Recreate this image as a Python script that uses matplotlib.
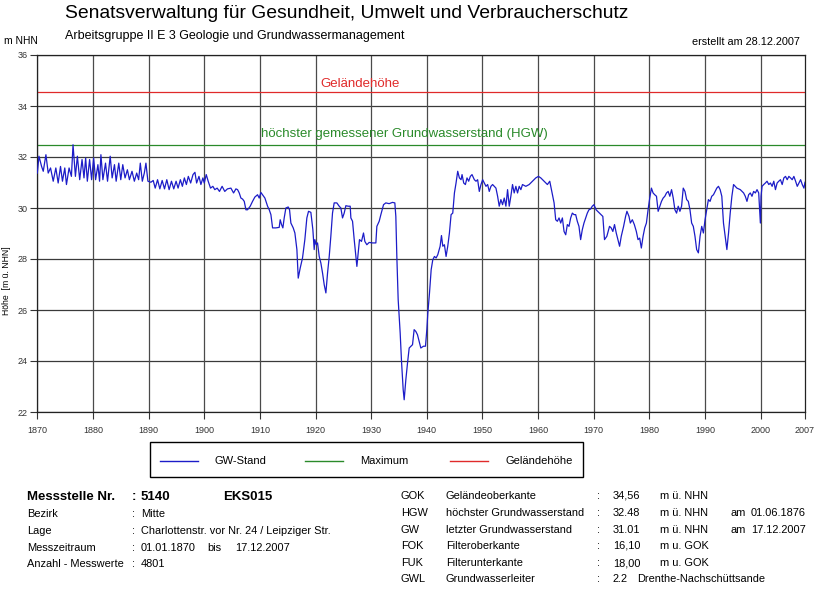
import matplotlib
matplotlib.use("Agg")
import matplotlib.pyplot as plt
from matplotlib.lines import Line2D
from matplotlib.patches import Rectangle

plt.rcParams['font.family'] = ['Liberation Sans', 'DejaVu Sans']

# ---------------- data ----------------
years = [
    1870.00, 1870.30, 1870.77, 1871.07, 1871.55, 1871.96, 1872.38, 1872.86, 1873.33, 1873.75,
    1874.17, 1874.52, 1874.94, 1875.24, 1875.71, 1876.13, 1876.42, 1876.85, 1877.20, 1877.62,
    1878.04, 1878.39, 1878.69, 1878.99, 1879.40, 1879.76, 1880.12, 1880.48, 1880.89, 1881.19,
    1881.43, 1881.79, 1882.26, 1882.62, 1883.10, 1883.45, 1883.87, 1884.17, 1884.64, 1885.00,
    1885.36, 1885.77, 1886.19, 1886.55, 1887.02, 1887.44, 1887.86, 1888.21, 1888.51, 1888.87,
    1889.23, 1889.52, 1889.88, 1890.42, 1890.83, 1891.19, 1891.61, 1892.02, 1892.44, 1892.86,
    1893.27, 1893.69, 1894.11, 1894.52, 1894.94, 1895.30, 1895.71, 1896.07, 1896.43, 1896.79,
    1897.14, 1897.56, 1897.98, 1898.33, 1898.63, 1899.05, 1899.40, 1899.76, 1900.00, 1900.36,
    1900.71, 1901.13, 1901.55, 1901.90, 1902.32, 1902.74, 1903.21, 1903.69, 1904.17, 1904.79,
    1905.27, 1905.69, 1905.99, 1906.29, 1906.59, 1906.89, 1907.19, 1907.49, 1907.78, 1908.26,
    1908.68, 1909.10, 1909.58, 1909.88, 1910.18, 1910.48, 1910.90, 1911.38, 1911.68, 1911.98,
    1912.28, 1912.87, 1913.47, 1913.65, 1913.89, 1914.13, 1914.37, 1914.67, 1915.09, 1915.33,
    1915.57, 1915.99, 1916.29, 1916.65, 1916.89, 1917.25, 1917.66, 1918.08, 1918.44, 1918.74,
    1919.16, 1919.34, 1919.52, 1919.76, 1919.88, 1920.12, 1920.36, 1920.66, 1920.96, 1921.26,
    1921.56, 1921.86, 1922.16, 1922.46, 1922.75, 1923.05, 1923.35, 1923.83, 1924.25, 1924.55,
    1924.85, 1925.15, 1925.45, 1925.87, 1926.23, 1926.35, 1926.65, 1926.95, 1927.25, 1927.43,
    1927.66, 1927.90, 1928.26, 1928.62, 1928.86, 1929.22, 1929.64, 1930.24, 1930.84, 1931.02,
    1931.44, 1931.74, 1932.22, 1932.63, 1933.23, 1933.83, 1934.25, 1934.43, 1934.61, 1934.85,
    1935.21, 1935.45, 1935.75, 1935.93, 1936.23, 1936.53, 1936.83, 1937.43, 1937.72, 1938.02,
    1938.32, 1938.62, 1938.92, 1939.40, 1939.76, 1940.00, 1940.18, 1940.48, 1940.78, 1941.07,
    1941.37, 1941.67, 1941.97, 1942.39, 1942.63, 1942.87, 1943.16, 1943.46, 1943.76, 1944.06,
    1944.36, 1944.66, 1944.96, 1945.25, 1945.55, 1945.85, 1946.15, 1946.33, 1946.63, 1946.93,
    1947.22, 1947.52, 1947.82, 1948.12, 1948.54, 1948.84, 1949.13, 1949.43, 1949.73, 1950.03,
    1950.33, 1950.63, 1950.93, 1951.22, 1951.52, 1951.82, 1952.12, 1952.42, 1952.72, 1953.01,
    1953.31, 1953.61, 1953.91, 1954.21, 1954.51, 1954.81, 1955.10, 1955.40, 1955.70, 1956.00,
    1956.30, 1956.60, 1956.90, 1957.19, 1957.79, 1958.39, 1958.99, 1959.58, 1960.06, 1960.48,
    1961.07, 1961.67, 1962.09, 1962.45, 1962.87, 1963.16, 1963.46, 1963.76, 1964.06, 1964.36,
    1964.66, 1964.96, 1965.25, 1965.55, 1965.85, 1966.15, 1966.45, 1966.75, 1967.04, 1967.34,
    1967.64, 1967.94, 1968.24, 1968.54, 1968.84, 1969.13, 1969.43, 1969.73, 1970.03, 1970.42,
    1971.02, 1971.63, 1971.93, 1972.35, 1972.83, 1973.13, 1973.43, 1973.73, 1974.04, 1974.34,
    1974.64, 1974.94, 1975.36, 1975.72, 1975.96, 1976.33, 1976.57, 1976.93, 1977.29, 1977.65,
    1977.95, 1978.25, 1978.55, 1978.86, 1979.16, 1979.46, 1979.76, 1980.06, 1980.36, 1980.66,
    1980.96, 1981.27, 1981.57, 1981.87, 1982.17, 1982.47, 1982.77, 1983.07, 1983.37, 1983.67,
    1983.98, 1984.28, 1984.58, 1984.88, 1985.18, 1985.48, 1985.78, 1986.08, 1986.39, 1986.69,
    1986.99, 1987.29, 1987.59, 1987.89, 1988.19, 1988.49, 1988.80, 1989.10, 1989.40, 1989.70,
    1990.00, 1990.30, 1990.60, 1990.90, 1991.20, 1991.51, 1991.81, 1992.11, 1992.41, 1992.71,
    1993.01, 1993.31, 1993.61, 1993.92, 1994.22, 1994.52, 1994.82, 1995.12, 1995.72, 1996.33,
    1996.93, 1997.23, 1997.53, 1997.83, 1998.13, 1998.43, 1998.73, 1999.04, 1999.34, 1999.64,
    1999.94, 2000.06, 2000.24, 2000.54, 2000.84, 2001.14, 2001.45, 2001.75, 2002.05, 2002.35,
    2002.65, 2002.95, 2003.25, 2003.55, 2003.86, 2004.16, 2004.46, 2004.76, 2005.06, 2005.36,
    2005.66, 2005.96, 2006.27, 2006.57, 2006.87, 2007.17, 2007.47, 2007.77, 2007.96,
]
levels = [
    31.37, 32.03, 31.63, 31.44, 32.09, 31.37, 31.57, 31.05, 31.57, 30.98,
    31.63, 31.05, 31.57, 30.92, 31.57, 31.24, 32.48, 31.24, 32.03, 31.11,
    31.90, 31.18, 31.96, 31.05, 31.90, 31.11, 31.96, 31.11, 31.70, 31.05,
    32.09, 31.11, 31.76, 31.05, 32.03, 31.18, 31.70, 31.05, 31.76, 31.11,
    31.70, 31.18, 31.50, 31.11, 31.44, 31.05, 31.37, 31.11, 31.76, 31.05,
    31.37, 31.76, 31.05, 31.01, 31.08, 30.78, 31.11, 30.75, 31.08, 30.75,
    31.11, 30.72, 31.05, 30.75, 31.05, 30.78, 31.11, 30.85, 31.18, 30.92,
    31.24, 30.98, 31.31, 31.40, 30.98, 31.24, 30.92, 31.18, 30.98, 31.31,
    31.05, 30.78, 30.85, 30.72, 30.78, 30.65, 30.85, 30.65, 30.75, 30.78,
    30.59, 30.75, 30.72, 30.59, 30.39, 30.35, 30.26, 29.93, 29.93, 30.07,
    30.26, 30.43, 30.52, 30.39, 30.61, 30.52, 30.39, 30.07, 29.93, 29.74,
    29.22, 29.22, 29.24, 29.54, 29.35, 29.22, 29.61, 30.00, 30.04, 29.93,
    29.41, 29.22, 29.02, 28.37, 27.25, 27.65, 28.04, 28.76, 29.61, 29.87,
    29.83, 29.48, 29.15, 28.37, 28.76, 28.56, 28.63, 28.10, 27.84, 27.45,
    26.99, 26.67, 27.45, 28.10, 28.89, 29.80, 30.20, 30.20, 30.07, 30.00,
    29.61, 29.80, 30.09, 30.07, 30.07, 29.61, 29.48, 28.76, 28.10, 27.71,
    28.24, 28.76, 28.69, 29.02, 28.69, 28.56, 28.65, 28.63, 28.63, 29.28,
    29.48, 29.74, 30.13, 30.20, 30.17, 30.22, 30.20, 29.67, 28.10, 26.41,
    25.10, 23.99, 22.88, 22.48, 23.27, 23.92, 24.51, 24.64, 25.23, 25.16,
    25.03, 24.77, 24.51, 24.58, 24.58, 25.23, 25.88, 26.67, 27.58, 27.97,
    28.10, 28.04, 28.17, 28.50, 28.92, 28.50, 28.56, 28.10, 28.50, 29.02,
    29.74, 29.80, 30.59, 30.98, 31.44, 31.18, 31.11, 31.31, 30.98, 30.92,
    31.18, 31.05, 31.24, 31.31, 31.11, 31.05, 31.11, 30.65, 30.92, 31.11,
    30.98, 30.85, 30.92, 30.65, 30.85, 30.92, 30.85, 30.78, 30.46, 30.07,
    30.33, 30.13, 30.39, 30.07, 30.72, 30.07, 30.46, 30.92, 30.59, 30.85,
    30.59, 30.85, 30.72, 30.92, 30.85, 30.92, 31.05, 31.18, 31.24, 31.18,
    31.05, 30.92, 31.05, 30.65, 30.20, 29.54, 29.48, 29.61, 29.41, 29.61,
    29.08, 28.95, 29.35, 29.28, 29.61, 29.80, 29.74, 29.74, 29.48, 29.28,
    28.76, 29.15, 29.41, 29.61, 29.80, 29.93, 29.96, 30.07, 30.13, 29.93,
    29.80, 29.67, 28.76, 28.89, 29.28, 29.22, 29.08, 29.35, 29.02, 28.76,
    28.50, 28.89, 29.28, 29.67, 29.87, 29.67, 29.41, 29.54, 29.35, 29.08,
    28.76, 28.82, 28.43, 28.89, 29.22, 29.41, 29.93, 30.39, 30.78, 30.59,
    30.52, 30.46, 29.87, 30.07, 30.26, 30.39, 30.46, 30.59, 30.65, 30.46,
    30.72, 30.39, 29.93, 29.80, 30.07, 29.87, 30.07, 30.78, 30.65, 30.33,
    30.26, 29.93, 29.41, 29.28, 28.89, 28.37, 28.24, 28.89, 29.28, 29.02,
    29.54, 29.93, 30.33, 30.26, 30.46, 30.52, 30.65, 30.78, 30.85, 30.72,
    30.46, 29.41, 28.89, 28.37, 29.02, 29.80, 30.46, 30.92, 30.78, 30.72,
    30.59, 30.46, 30.26, 30.52, 30.59, 30.46, 30.65, 30.59, 30.72, 30.59,
    29.41, 30.46, 30.85, 30.92, 30.98, 31.05, 30.92, 30.98, 30.85, 31.05,
    30.72, 30.98, 31.05, 31.11, 30.92, 31.18, 31.24, 31.11, 31.24, 31.18,
    31.11, 31.24, 31.05, 30.85, 30.98, 31.11, 30.92, 30.78, 31.01,
]
gok_level = 34.56      # Geländeoberkante
hgw_level = 32.48      # höchster gemessener Grundwasserstand
x_start, x_end = 1870.0, 2007.96
yticks = [22, 24, 26, 28, 30, 32, 34, 36]
xticks = [1870, 1880, 1890, 1900, 1910, 1920, 1930, 1940, 1950, 1960, 1970, 1980, 1990, 2000]
xtick_labels = ['1870', '1880', '1890', '1900', '1910', '1920', '1930', '1940', '1950',
                '1960', '1970', '1980', '1990', '2000', '2007']

C_BLUE = '#1c1cc8'
C_GREEN = '#2a8a2a'
C_RED = '#e02a2a'

# ---------------- figure ----------------
W, H = 820, 590
fig = plt.figure(figsize=(W / 100, H / 100), dpi=100)
fig.patch.set_facecolor('white')

def fx(px):
    return px / W

def fy(py):
    return 1 - py / H

ax = fig.add_axes([fx(37.3), fy(412), fx(805) - fx(37.3), fy(55) - fy(412)])
ax.set_xlim(x_start, x_end)
ax.set_ylim(22, 36)

for y in yticks:
    ax.axhline(y, color='#3a3a3a', lw=0.9, zorder=1)
for x in xticks:
    ax.axvline(x, color='#4a4a4a', lw=0.9, zorder=1)

ax.plot(years, levels, color=C_BLUE, lw=0.9, zorder=3)
ax.axhline(gok_level, color=C_RED, lw=0.9, zorder=2)
ax.axhline(hgw_level, color=C_GREEN, lw=0.9, zorder=2)

ax.text(1928.0, 34.86, 'Geländehöhe', color=C_RED, fontsize=9.5,
        ha='center', va='center')
ax.text(1935.9, 32.90, 'höchster gemessener Grundwasserstand (HGW)',
        color=C_GREEN, fontsize=9.5, ha='center', va='center')

ax.set_yticks(yticks)
ax.set_yticklabels([str(v) for v in yticks])
ax.set_xticks(xticks + [x_end])
ax.set_xticklabels(xtick_labels)
ax.tick_params(axis='both', direction='out', length=5, width=0.8, color='#333333',
               labelsize=6.5, labelcolor='#333333')
ax.tick_params(axis='x', pad=5)
ax.tick_params(axis='y', pad=2)
for s in ax.spines.values():
    s.set_color('#222222')
    s.set_linewidth(0.9)

# ---------------- header texts ----------------
fig.text(fx(65), fy(14), 'Senatsverwaltung für Gesundheit, Umwelt und Verbraucherschutz',
         fontsize=13.9, ha='left', va='center', color='black')
fig.text(fx(65), fy(36), 'Arbeitsgruppe II E 3 Geologie und Grundwassermanagement',
         fontsize=9.0, ha='left', va='center', color='black')
fig.text(fx(4), fy(41), 'm NHN', fontsize=7.4, ha='left', va='center', color='black')
fig.text(fx(800), fy(42), 'erstellt am 28.12.2007', fontsize=7.8, ha='right', va='center',
         color='black')
fig.text(fx(7), fy(281), 'Höhe  [m ü. NHN]', fontsize=6.2, rotation=90, ha='center',
         va='center', color='black')

# ---------------- legend box ----------------
fig.add_artist(Rectangle((fx(150), fy(477)), fx(583) - fx(150), fy(442) - fy(477),
                         transform=fig.transFigure, fill=False, edgecolor='black', lw=1))
ly = fy(461)
for x0, x1, col, lab, tx in [(160, 198, C_BLUE, 'GW-Stand', 215),
                             (305, 343, C_GREEN, 'Maximum', 360),
                             (450, 488, C_RED, 'Geländehöhe', 506)]:
    fig.add_artist(Line2D([fx(x0), fx(x1)], [ly, ly], transform=fig.transFigure,
                          color=col, lw=1))
    fig.text(fx(tx), ly, lab, fontsize=8.0, ha='left', va='center', color='black')

# ---------------- info block left ----------------
fs = 7.9
fig.text(fx(27), fy(497), 'Messstelle Nr.', fontsize=9.5, fontweight='bold', va='center')
fig.text(fx(132), fy(497), ':', fontsize=9.5, fontweight='bold', va='center')
fig.text(fx(141), fy(497), '5140', fontsize=9.5, fontweight='bold', va='center')
fig.text(fx(223), fy(497), 'EKS015', fontsize=9.5, fontweight='bold', va='center')
left_rows = [('Bezirk', 'Mitte', 514),
             ('Lage', 'Charlottenstr. vor Nr. 24 / Leipziger Str.', 531),
             ('Messzeitraum', None, 548),
             ('Anzahl - Messwerte', '4801', 564)]
for lab, val, py in left_rows:
    fig.text(fx(27), fy(py), lab, fontsize=fs, va='center')
    fig.text(fx(132), fy(py), ':', fontsize=fs, va='center')
    if val is not None:
        fig.text(fx(141), fy(py), val, fontsize=fs, va='center')
fig.text(fx(141), fy(548), '01.01.1870', fontsize=fs, va='center')
fig.text(fx(207), fy(548), 'bis', fontsize=fs, va='center')
fig.text(fx(235), fy(548), '17.12.2007', fontsize=fs, va='center')

# ---------------- info block right ----------------
right_rows = [('GOK', 'Geländeoberkante', '34,56', 'm ü. NHN', None, 496),
              ('HGW', 'höchster Grundwasserstand', '32.48', 'm ü. NHN', '01.06.1876', 513),
              ('GW', 'letzter Grundwasserstand', '31.01', 'm ü. NHN', '17.12.2007', 530),
              ('FOK', 'Filteroberkante', '16,10', 'm u. GOK', None, 546),
              ('FUK', 'Filterunterkante', '18,00', 'm u. GOK', None, 563),
              ('GWL', 'Grundwasserleiter', '2.2', None, None, 579)]
for code, desc, val, unit, date, py in right_rows:
    fig.text(fx(401), fy(py), code, fontsize=fs, va='center')
    fig.text(fx(446), fy(py), desc, fontsize=fs, va='center')
    fig.text(fx(597), fy(py), ':', fontsize=fs, va='center')
    fig.text(fx(613), fy(py), val, fontsize=fs, va='center')
    if unit:
        fig.text(fx(660), fy(py), unit, fontsize=fs, va='center')
    if date:
        fig.text(fx(731), fy(py), 'am', fontsize=fs, va='center')
        fig.text(fx(751), fy(py), date, fontsize=fs, va='center')
fig.text(fx(637), fy(579), 'Drenthe-Nachschüttsande', fontsize=fs, va='center')

fig.savefig('out.png', dpi=100, facecolor='white')
